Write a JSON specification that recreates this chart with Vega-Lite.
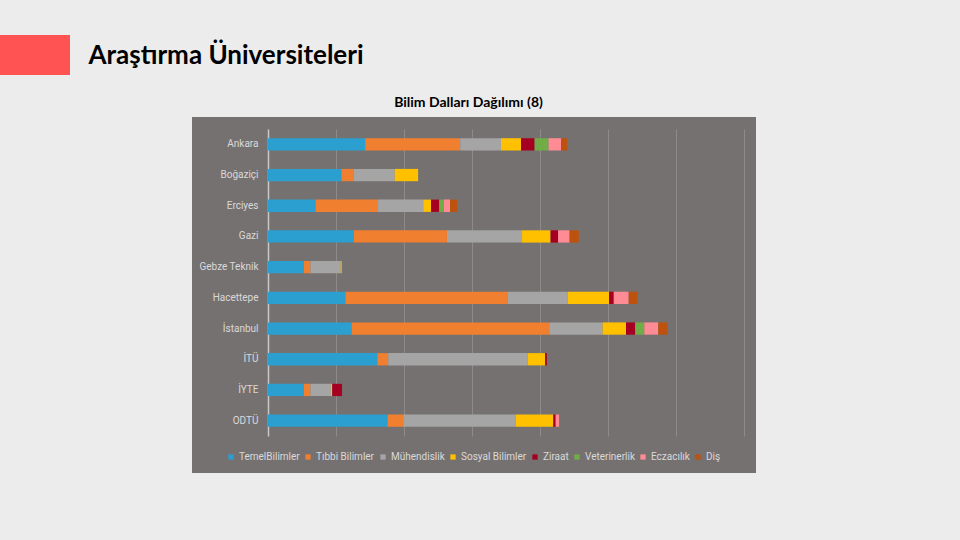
{
  "$schema": "https://vega.github.io/schema/vega-lite/v6.json",
  "width": 564,
  "height": 356,
  "autosize": {"type": "none"},
  "padding": {"left": 192, "top": 117, "right": 204, "bottom": 67},
  "background": "#ECECEC",
  "config": {
    "view": {"fill": "#767171", "stroke": null},
    "font": "Open Sans"
  },
  "layer": [
    {
      "data": {"values": [{"deco": "slide"}]},
      "mark": {"type": "rect", "color": "#FF5353", "clip": false},
      "encoding": {
        "x": {"value": -192},
        "x2": {"value": -122},
        "y": {"value": -82},
        "y2": {"value": -42}
      }
    },
    {
      "data": {
        "values": [
          {"u": "Ankara", "d": "TemelBilimler", "k": 1, "v": 28.6},
          {"u": "Ankara", "d": "Tıbbi Bilimler", "k": 2, "v": 28.0},
          {"u": "Ankara", "d": "Mühendislik", "k": 3, "v": 12.0},
          {"u": "Ankara", "d": "Sosyal Bilimler", "k": 4, "v": 5.9},
          {"u": "Ankara", "d": "Ziraat", "k": 5, "v": 4.0},
          {"u": "Ankara", "d": "Veterinerlik", "k": 6, "v": 4.1},
          {"u": "Ankara", "d": "Eczacılık", "k": 7, "v": 3.7},
          {"u": "Ankara", "d": "Diş", "k": 8, "v": 1.8},
          {"u": "Boğaziçi", "d": "TemelBilimler", "k": 1, "v": 21.6},
          {"u": "Boğaziçi", "d": "Tıbbi Bilimler", "k": 2, "v": 3.7},
          {"u": "Boğaziçi", "d": "Mühendislik", "k": 3, "v": 12.0},
          {"u": "Boğaziçi", "d": "Sosyal Bilimler", "k": 4, "v": 6.9},
          {"u": "Erciyes", "d": "TemelBilimler", "k": 1, "v": 14.0},
          {"u": "Erciyes", "d": "Tıbbi Bilimler", "k": 2, "v": 18.4},
          {"u": "Erciyes", "d": "Mühendislik", "k": 3, "v": 13.3},
          {"u": "Erciyes", "d": "Sosyal Bilimler", "k": 4, "v": 2.3},
          {"u": "Erciyes", "d": "Ziraat", "k": 5, "v": 2.4},
          {"u": "Erciyes", "d": "Veterinerlik", "k": 6, "v": 1.4},
          {"u": "Erciyes", "d": "Eczacılık", "k": 7, "v": 1.8},
          {"u": "Erciyes", "d": "Diş", "k": 8, "v": 2.1},
          {"u": "Gazi", "d": "TemelBilimler", "k": 1, "v": 25.3},
          {"u": "Gazi", "d": "Tıbbi Bilimler", "k": 2, "v": 27.4},
          {"u": "Gazi", "d": "Mühendislik", "k": 3, "v": 22.1},
          {"u": "Gazi", "d": "Sosyal Bilimler", "k": 4, "v": 8.4},
          {"u": "Gazi", "d": "Ziraat", "k": 5, "v": 2.2},
          {"u": "Gazi", "d": "Eczacılık", "k": 7, "v": 3.4},
          {"u": "Gazi", "d": "Diş", "k": 8, "v": 2.7},
          {"u": "Gebze Teknik", "d": "TemelBilimler", "k": 1, "v": 10.6},
          {"u": "Gebze Teknik", "d": "Tıbbi Bilimler", "k": 2, "v": 1.9},
          {"u": "Gebze Teknik", "d": "Mühendislik", "k": 3, "v": 8.9},
          {"u": "Gebze Teknik", "d": "Sosyal Bilimler", "k": 4, "v": 0.3},
          {"u": "Hacettepe", "d": "TemelBilimler", "k": 1, "v": 22.8},
          {"u": "Hacettepe", "d": "Tıbbi Bilimler", "k": 2, "v": 47.7},
          {"u": "Hacettepe", "d": "Mühendislik", "k": 3, "v": 17.8},
          {"u": "Hacettepe", "d": "Sosyal Bilimler", "k": 4, "v": 12.1},
          {"u": "Hacettepe", "d": "Ziraat", "k": 5, "v": 1.4},
          {"u": "Hacettepe", "d": "Eczacılık", "k": 7, "v": 4.4},
          {"u": "Hacettepe", "d": "Diş", "k": 8, "v": 2.6},
          {"u": "İstanbul", "d": "TemelBilimler", "k": 1, "v": 24.6},
          {"u": "İstanbul", "d": "Tıbbi Bilimler", "k": 2, "v": 58.2},
          {"u": "İstanbul", "d": "Mühendislik", "k": 3, "v": 15.7},
          {"u": "İstanbul", "d": "Sosyal Bilimler", "k": 4, "v": 6.9},
          {"u": "İstanbul", "d": "Ziraat", "k": 5, "v": 2.7},
          {"u": "İstanbul", "d": "Veterinerlik", "k": 6, "v": 2.7},
          {"u": "İstanbul", "d": "Eczacılık", "k": 7, "v": 4.1},
          {"u": "İstanbul", "d": "Diş", "k": 8, "v": 2.7},
          {"u": "İTÜ", "d": "TemelBilimler", "k": 1, "v": 32.2},
          {"u": "İTÜ", "d": "Tıbbi Bilimler", "k": 2, "v": 3.2},
          {"u": "İTÜ", "d": "Mühendislik", "k": 3, "v": 41.1},
          {"u": "İTÜ", "d": "Sosyal Bilimler", "k": 4, "v": 5.1},
          {"u": "İTÜ", "d": "Ziraat", "k": 5, "v": 0.5},
          {"u": "İYTE", "d": "TemelBilimler", "k": 1, "v": 10.6},
          {"u": "İYTE", "d": "Tıbbi Bilimler", "k": 2, "v": 1.9},
          {"u": "İYTE", "d": "Mühendislik", "k": 3, "v": 6.0},
          {"u": "İYTE", "d": "Sosyal Bilimler", "k": 4, "v": 0.4},
          {"u": "İYTE", "d": "Ziraat", "k": 5, "v": 2.9},
          {"u": "ODTÜ", "d": "TemelBilimler", "k": 1, "v": 35.2},
          {"u": "ODTÜ", "d": "Tıbbi Bilimler", "k": 2, "v": 4.6},
          {"u": "ODTÜ", "d": "Mühendislik", "k": 3, "v": 33.1},
          {"u": "ODTÜ", "d": "Sosyal Bilimler", "k": 4, "v": 11.1},
          {"u": "ODTÜ", "d": "Ziraat", "k": 5, "v": 0.7},
          {"u": "ODTÜ", "d": "Eczacılık", "k": 7, "v": 1.0}
        ]
      },
      "mark": {"type": "bar"},
      "encoding": {
        "y": {
          "field": "u",
          "type": "nominal",
          "sort": ["Ankara", "Boğaziçi", "Erciyes", "Gazi", "Gebze Teknik", "Hacettepe", "İstanbul", "İTÜ", "İYTE", "ODTÜ"],
          "scale": {"range": [12, 319], "paddingInner": 0.6, "paddingOuter": 0.3},
          "axis": {
            "orient": "left",
            "offset": -76,
            "ticks": false,
            "domainColor": "#C8C8C8",
            "domainWidth": 1.5,
            "labelColor": "#D9D9D9",
            "labelFont": "Roboto",
            "labelFontSize": 10,
            "labelPadding": 10,
            "grid": false,
            "title": "Araştırma Üniversiteleri",
            "titleAngle": 0,
            "titleX": -180,
            "titleY": -62,
            "titleAlign": "left",
            "titleBaseline": "middle",
            "titleFont": "Lato",
            "titleFontSize": 26,
            "titleFontWeight": "bold",
            "titleColor": "#000000"
          }
        },
        "x": {
          "field": "v",
          "type": "quantitative",
          "stack": "zero",
          "scale": {"domain": [0, 140], "range": [76, 551.5], "nice": false},
          "axis": {
            "orient": "top",
            "values": [0, 20, 40, 60, 80, 100, 120, 140],
            "labels": false,
            "ticks": false,
            "domain": false,
            "grid": true,
            "gridColor": "#8E8A8A",
            "gridWidth": 1,
            "title": "Bilim Dalları Dağılımı (8)",
            "titleX": 276,
            "titleY": -15,
            "titleAlign": "center",
            "titleBaseline": "middle",
            "titleFont": "Lato",
            "titleFontSize": 14,
            "titleFontWeight": "bold",
            "titleColor": "#000000"
          }
        },
        "color": {
          "field": "d",
          "type": "nominal",
          "scale": {
            "domain": ["TemelBilimler", "Tıbbi Bilimler", "Mühendislik", "Sosyal Bilimler", "Ziraat", "Veterinerlik", "Eczacılık", "Diş"],
            "range": ["#2B9FD0", "#F07F30", "#A5A5A5", "#FFC000", "#A50021", "#70AD47", "#FF8B94", "#BC520E"]
          },
          "legend": {
            "orient": "none",
            "legendX": 34,
            "legendY": 335,
            "direction": "horizontal",
            "title": null,
            "symbolType": "square",
            "symbolSize": 28,
            "symbolStrokeWidth": 0,
            "labelColor": "#D9D9D9",
            "labelFont": "Roboto",
            "labelFontSize": 10,
            "labelOffset": 3,
            "columnPadding": 3
          }
        },
        "order": {"field": "k", "type": "quantitative"}
      }
    }
  ]
}
